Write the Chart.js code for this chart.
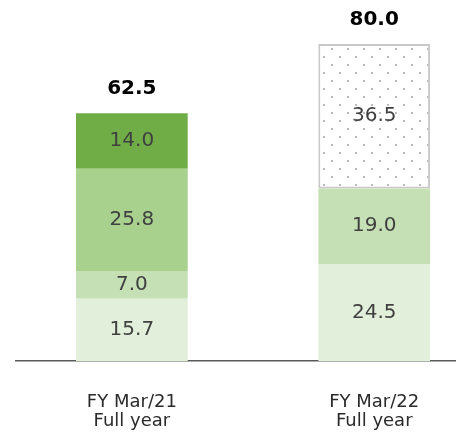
<!DOCTYPE html>
<html lang="en">
  <head>
    <meta charset="UTF-8" />
    <title>FY Mar/21 vs FY Mar/22</title>
    <script src="https://cdn.jsdelivr.net/npm/chart.js"></script>
    <style>
      html,
      body {
        margin: 0;
        padding: 0;
        background: #fff;
      }
      #wrap {
        width: 456px;
        height: 433px;
      }
    </style>
  </head>
  <body>
    <div id="wrap"><canvas id="chart"></canvas></div>

    <script>
      // categories (two-line tick labels)
      const categories = [
        ["FY Mar/21", "Full year"],
        ["FY Mar/22", "Full year"],
      ];

      // stacked segments, bottom to top
      const seg1 = [15.7, 24.5];
      const seg2 = [7.0, 19.0];
      const seg3 = [25.8, 36.5];
      const seg4 = [14.0, null];
      const totals = [62.5, 80.0];

      const ctx = document.getElementById("chart").getContext("2d");

      // dotted fill for the forecast part
      function dotPattern() {
        const c = document.createElement("canvas");
        c.width = 16;
        c.height = 16;
        const g = c.getContext("2d");
        g.fillStyle = "#ffffff";
        g.fillRect(0, 0, 16, 16);
        g.fillStyle = "#bdbdbd";
        g.fillRect(11, 0, 2, 2);
        g.fillRect(3, 8, 2, 2);
        return ctx.createPattern(c, "repeat");
      }
      const dots = dotPattern();

      const levels = [seg1, seg2, seg3, seg4];
      const fills = [
        ["#e2efda", "#e2efda"],
        ["#c5e0b4", "#c5e0b4"],
        ["#a9d18e", dots],
        ["#70ad47", "#70ad47"],
      ];

      // values inside segments + totals on top
      const labelPlugin = {
        id: "barLabels",
        afterDatasetsDraw(chart) {
          const c = chart.ctx;
          c.save();
          c.textAlign = "center";
          c.textBaseline = "middle";
          c.font = '20px "DejaVu Sans"';
          c.fillStyle = "#404040";
          chart.data.datasets.forEach((ds, i) => {
            chart.getDatasetMeta(i).data.forEach((bar, j) => {
              const v = ds.data[j].y;
              if (v == null) return;
              c.fillText(v.toFixed(1), bar.x, (bar.y + bar.base) / 2);
            });
          });
          c.font = 'bold 20px "DejaVu Sans"';
          c.fillStyle = "#000000";
          const xs = chart.scales.x;
          const ys = chart.scales.y;
          totals.forEach((t, i) => {
            c.fillText(t.toFixed(1), xs.getPixelForValue(i), ys.getPixelForValue(t) - 24);
          });
          c.restore();
        },
      };

      new Chart(ctx, {
        type: "bar",
        data: {
          datasets: levels.map((vals, k) => ({
            data: vals.map((v, i) => ({ x: i, y: v })),
            backgroundColor: fills[k],
            borderColor: k === 2 ? ["rgba(0,0,0,0)", "#c8c8c8"] : "rgba(0,0,0,0)",
            borderWidth: k === 2 ? [0, 2] : 0,
            borderSkipped: false,
            categoryPercentage: 1,
            barPercentage: 0.461,
          })),
        },
        options: {
          responsive: true,
          maintainAspectRatio: false,
          animation: false,
          layout: { padding: { left: 16, right: 0, top: 36, bottom: 0 } },
          plugins: {
            legend: { display: false },
            tooltip: { enabled: false },
          },
          scales: {
            x: {
              type: "linear",
              stacked: true,
              min: -0.478,
              max: 1.3375,
              offset: false,
              afterBuildTicks: (scale) => {
                scale.ticks = categories.map((_, i) => ({ value: i }));
              },
              afterFit: (scale) => {
                scale.height = 72;
              },
              grid: { display: false, drawTicks: false },
              border: { display: true, color: "#595959", width: 1.5 },
              ticks: {
                autoSkip: false,
                maxRotation: 0,
                padding: 31,
                color: "#2b2b2b",
                font: { family: "DejaVu Sans", size: 18, lineHeight: 1.1 },
                callback: (v) => categories[v],
              },
            },
            y: {
              display: false,
              stacked: true,
              min: 0,
              max: 82,
            },
          },
        },
        plugins: [labelPlugin],
      });
    </script>
  </body>
</html>
